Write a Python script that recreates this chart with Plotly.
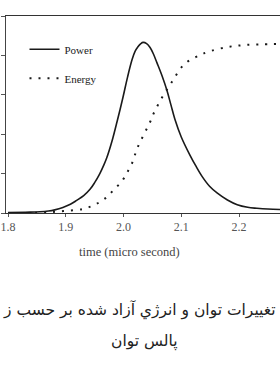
import plotly.graph_objects as go

# time (micro second)
power_t = [1.800, 1.830, 1.855, 1.870, 1.881, 1.895, 1.908, 1.919, 1.931, 1.942,
           1.950, 1.959, 1.966, 1.971, 1.980, 1.989, 1.999, 2.007, 2.015, 2.020,
           2.025, 2.030, 2.034, 2.040, 2.046, 2.052, 2.058, 2.067, 2.075, 2.082,
           2.089, 2.100, 2.115, 2.125, 2.136, 2.149, 2.162, 2.180, 2.197, 2.215,
           2.231, 2.250, 2.271]
power_v = [0.01, 0.02, 0.03, 0.05, 0.08, 0.14, 0.22, 0.32, 0.44, 0.60,
           0.77, 1.00, 1.22, 1.40, 1.82, 2.33, 2.93, 3.45, 3.90, 4.10,
           4.22, 4.30, 4.33, 4.30, 4.20, 4.03, 3.81, 3.47, 3.12, 2.75,
           2.38, 1.93, 1.47, 1.20, 0.93, 0.68, 0.51, 0.33, 0.21, 0.145,
           0.12, 0.10, 0.09]

energy_t = [1.800, 1.860, 1.896, 1.929, 1.946, 1.959, 1.973, 1.985, 1.997, 2.006,
            2.015, 2.024, 2.046, 2.051, 2.067, 2.084, 2.101, 2.115, 2.133, 2.146,
            2.179, 2.207, 2.236, 2.271]
energy_v = [0.00, 0.01, 0.05, 0.10, 0.18, 0.28, 0.43, 0.62, 0.80, 1.02,
            1.27, 1.65, 2.31, 2.49, 2.94, 3.33, 3.71, 3.88, 4.01, 4.09,
            4.21, 4.26, 4.28, 4.29]

x_ticks = [1.8, 1.9, 2.0, 2.1, 2.2]
x_tick_text = ["1.8", "1.9", "2.0", "2.1", "2.2"]
y_ticks = [0, 1, 2, 3, 4, 5]

x_title = "time (micro second)"
caption_1 = "تغییرات توان و انرژي آزاد شده بر حسب ز"
caption_2 = "پالس توان"

SERIF = "Liberation Serif, Times New Roman, serif"
ARABIC = "DejaVu Sans, sans-serif"

# plot area: x 6..280 px, y 16..213 px
def px_to_paper_x(px):
    return (px - 6) / 274.0

def py_to_paper_y(py):
    return (213 - py) / 197.0

fig = go.Figure()
fig.add_trace(go.Scatter(
    x=power_t, y=power_v, name="Power", mode="lines", line_shape="spline",
    line=dict(color="#1a1a1a", width=1.6), legendgroup="p"))
fig.add_trace(go.Scatter(
    x=energy_t, y=energy_v, name="Energy", mode="lines", line_shape="spline",
    line=dict(color="#1a1a1a", width=2, dash="2px,7px"), legendgroup="e"))

fig.update_layout(
    width=280, height=380,
    margin=dict(l=6, r=0, t=16, b=167),
    paper_bgcolor="white", plot_bgcolor="white",
    showlegend=True,
    legend=dict(x=0.0675, y=0.905, xanchor="left", yanchor="top",
                bgcolor="rgba(0,0,0,0)", font=dict(family=SERIF, size=11, color="#222"),
                tracegroupgap=10, itemwidth=30),
    xaxis=dict(range=[1.7965, 2.271], tickvals=x_ticks, ticktext=x_tick_text,
               ticks="outside", ticklen=3, tickcolor="#555", showgrid=False, zeroline=False,
               showline=True, linecolor="#333", linewidth=1, mirror=True,
               tickfont=dict(family=SERIF, size=12, color="#555")),
    yaxis=dict(range=[0, 5], tickvals=y_ticks, showticklabels=False,
               ticks="outside", ticklen=4, tickcolor="#555", showgrid=False, zeroline=False,
               showline=True, linecolor="#444", linewidth=1),
    annotations=[
        dict(text=x_title, x=2.011, xref="x", y=py_to_paper_y(252), yref="paper", showarrow=False,
             xanchor="center", yanchor="middle", font=dict(family=SERIF, size=12.5, color="#444")),
        dict(text=caption_1, x=px_to_paper_x(278), xref="paper", y=py_to_paper_y(310), yref="paper",
             showarrow=False, xanchor="right", yanchor="middle",
             font=dict(family=ARABIC, size=15.5, color="#222")),
        dict(text=caption_2, x=px_to_paper_x(144), xref="paper", y=py_to_paper_y(341), yref="paper",
             showarrow=False, xanchor="center", yanchor="middle",
             font=dict(family=ARABIC, size=15.5, color="#222")),
    ],
)

fig.write_html("out.html")
